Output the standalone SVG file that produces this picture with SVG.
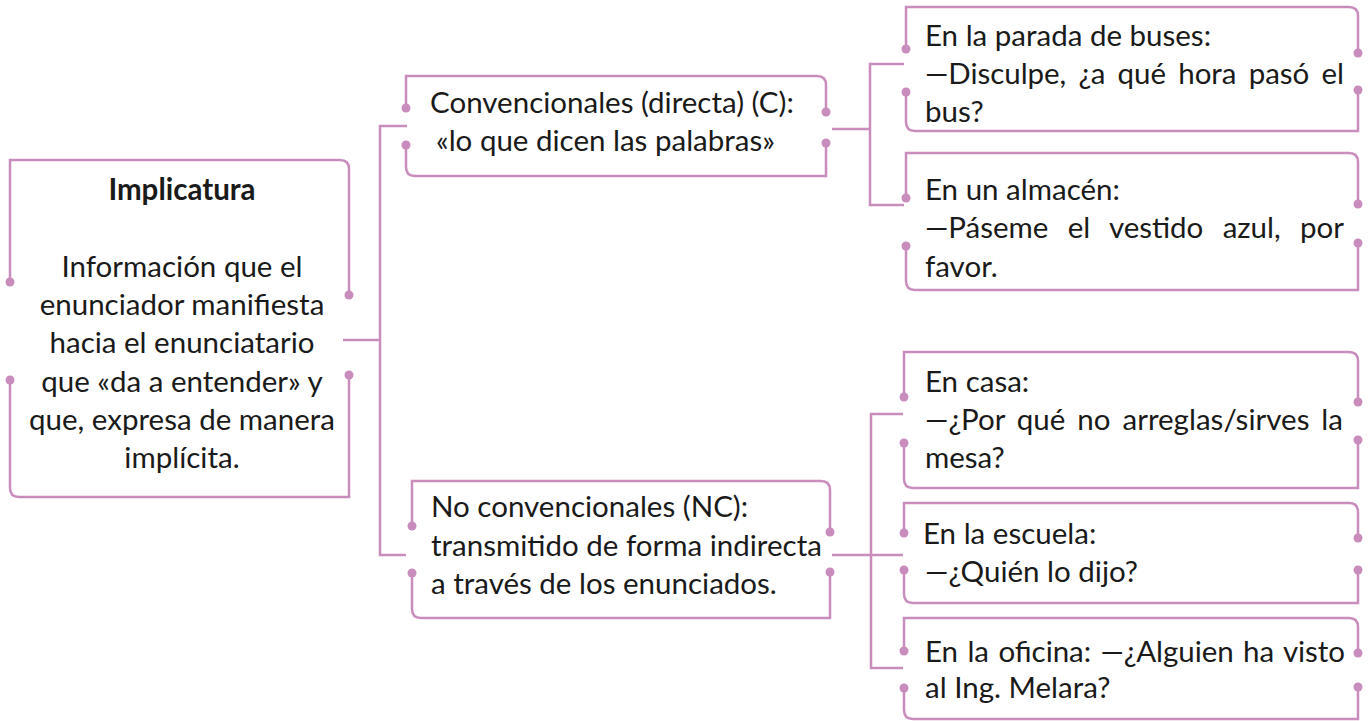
<svg xmlns="http://www.w3.org/2000/svg" width="1372" height="721" viewBox="0 0 1372 721">
<style>
.ln{fill:none;stroke:#C98DBD;stroke-width:2.5}
.dot{fill:#C98DBD}
.t{font-family:Lato,"Open Sans",sans-serif;font-size:29.5px;fill:#1a1a1a}
.c{text-anchor:middle}
.b{font-weight:bold}
</style>
<rect width="1372" height="721" fill="#ffffff"/>
<g id="connectors" class="ln">
<path d="M343,340 H380"/>
<path d="M407,126 H380 V555 H406"/>
<path d="M832,129 H870"/>
<path d="M904,64 H870 V205 H904"/>
<path d="M832,555 H903"/>
<path d="M903,414 H871 V668 H903"/>
</g>
<g id="n-main">
<path class="ln" d="M10,282 V160 H340 Q349,160 349,169 V295"/>
<path class="ln" d="M10,380 V488 Q10,497 19,497 H349 V375"/>
<circle class="dot" cx="10" cy="282" r="4.5"/><circle class="dot" cx="349" cy="295" r="4.5"/>
<circle class="dot" cx="10" cy="380" r="4.5"/><circle class="dot" cx="349" cy="375" r="4.5"/>
<text class="t c b" x="182" y="200">Implicatura</text>
<text class="t c" x="182" y="277">Información que el</text>
<text class="t c" x="182" y="315">enunciador manifiesta</text>
<text class="t c" x="182" y="353">hacia el enunciatario</text>
<text class="t c" x="182" y="392">que «da a entender» y</text>
<text class="t c" x="182" y="430">que, expresa de manera</text>
<text class="t c" x="182" y="468">implícita.</text>
</g>
<g id="n-conv">
<path class="ln" d="M406,108 V76 H817 Q826,76 826,85 V112"/>
<path class="ln" d="M406,145 V167 Q406,176 415,176 H826 V143"/>
<circle class="dot" cx="406" cy="108" r="4.5"/><circle class="dot" cx="826" cy="112" r="4.5"/>
<circle class="dot" cx="406" cy="145" r="4.5"/><circle class="dot" cx="826" cy="143" r="4.5"/>
<text class="t" x="430" y="113">Convencionales (directa) (C):</text>
<text class="t" x="436" y="151">«lo que dicen las palabras»</text>
</g>
<g id="n-noconv">
<path class="ln" d="M412,526 V481 H821 Q830,481 830,490 V532"/>
<path class="ln" d="M412,573 V609 Q412,618 421,618 H830 V572"/>
<circle class="dot" cx="412" cy="526" r="4.5"/><circle class="dot" cx="830" cy="532" r="4.5"/>
<circle class="dot" cx="412" cy="573" r="4.5"/><circle class="dot" cx="830" cy="572" r="4.5"/>
<text class="t" x="431" y="517">No convencionales (NC):</text>
<text class="t" x="431" y="556">transmitido de forma indirecta</text>
<text class="t" x="431" y="594">a través de los enunciados.</text>
</g>
<g id="n-bus">
<path class="ln" d="M906,49 V7 H1349 Q1358,7 1358,16 V53"/>
<path class="ln" d="M906,92 V122 Q906,131 915,131 H1358 V90"/>
<circle class="dot" cx="906" cy="49" r="4.5"/><circle class="dot" cx="1358" cy="53" r="4.5"/>
<circle class="dot" cx="906" cy="92" r="4.5"/><circle class="dot" cx="1358" cy="90" r="4.5"/>
<text class="t" x="925" y="46">En la parada de buses:</text>
<text class="t" x="925" y="84" word-spacing="4.8" textLength="419" lengthAdjust="spacing">—Disculpe, ¿a qué hora pasó el</text>
<text class="t" x="925" y="122">bus?</text>
</g>
<g id="n-almacen">
<path class="ln" d="M906,198 V153 H1349 Q1358,153 1358,162 V204"/>
<path class="ln" d="M906,246 V281 Q906,290 915,290 H1358 V243"/>
<circle class="dot" cx="906" cy="198" r="4.5"/><circle class="dot" cx="1358" cy="204" r="4.5"/>
<circle class="dot" cx="906" cy="246" r="4.5"/><circle class="dot" cx="1358" cy="243" r="4.5"/>
<text class="t" x="925" y="200">En un almacén:</text>
<text class="t" x="925" y="238" word-spacing="12" textLength="419" lengthAdjust="spacing">—Páseme el vestido azul, por</text>
<text class="t" x="925" y="277">favor.</text>
</g>
<g id="n-casa">
<path class="ln" d="M904,397 V352 H1349 Q1358,352 1358,361 V402"/>
<path class="ln" d="M904,443 V479 Q904,488 913,488 H1358 V440"/>
<circle class="dot" cx="904" cy="397" r="4.5"/><circle class="dot" cx="1358" cy="402" r="4.5"/>
<circle class="dot" cx="904" cy="443" r="4.5"/><circle class="dot" cx="1358" cy="440" r="4.5"/>
<text class="t" x="925" y="392">En casa:</text>
<text class="t" x="925" y="430" word-spacing="4.4" textLength="418" lengthAdjust="spacing">—¿Por qué no arreglas/sirves la</text>
<text class="t" x="925" y="468">mesa?</text>
</g>
<g id="n-escuela">
<path class="ln" d="M904,533 V503 H1349 Q1358,503 1358,512 V538"/>
<path class="ln" d="M904,570 V594 Q904,603 913,603 H1358 V570"/>
<circle class="dot" cx="904" cy="533" r="4.5"/><circle class="dot" cx="1358" cy="538" r="4.5"/>
<circle class="dot" cx="904" cy="570" r="4.5"/><circle class="dot" cx="1358" cy="570" r="4.5"/>
<text class="t" x="923" y="544">En la escuela:</text>
<text class="t" x="925" y="582">—¿Quién lo dijo?</text>
</g>
<g id="n-oficina">
<path class="ln" d="M904,651 V618 H1349 Q1358,618 1358,627 V653"/>
<path class="ln" d="M904,688 V710 Q904,719 913,719 H1358 V687"/>
<circle class="dot" cx="904" cy="651" r="4.5"/><circle class="dot" cx="1358" cy="653" r="4.5"/>
<circle class="dot" cx="904" cy="688" r="4.5"/><circle class="dot" cx="1358" cy="687" r="4.5"/>
<text class="t" x="925" y="662" word-spacing="2" textLength="420" lengthAdjust="spacing">En la oficina: —¿Alguien ha visto</text>
<text class="t" x="925" y="698">al Ing. Melara?</text>
</g>
</svg>
